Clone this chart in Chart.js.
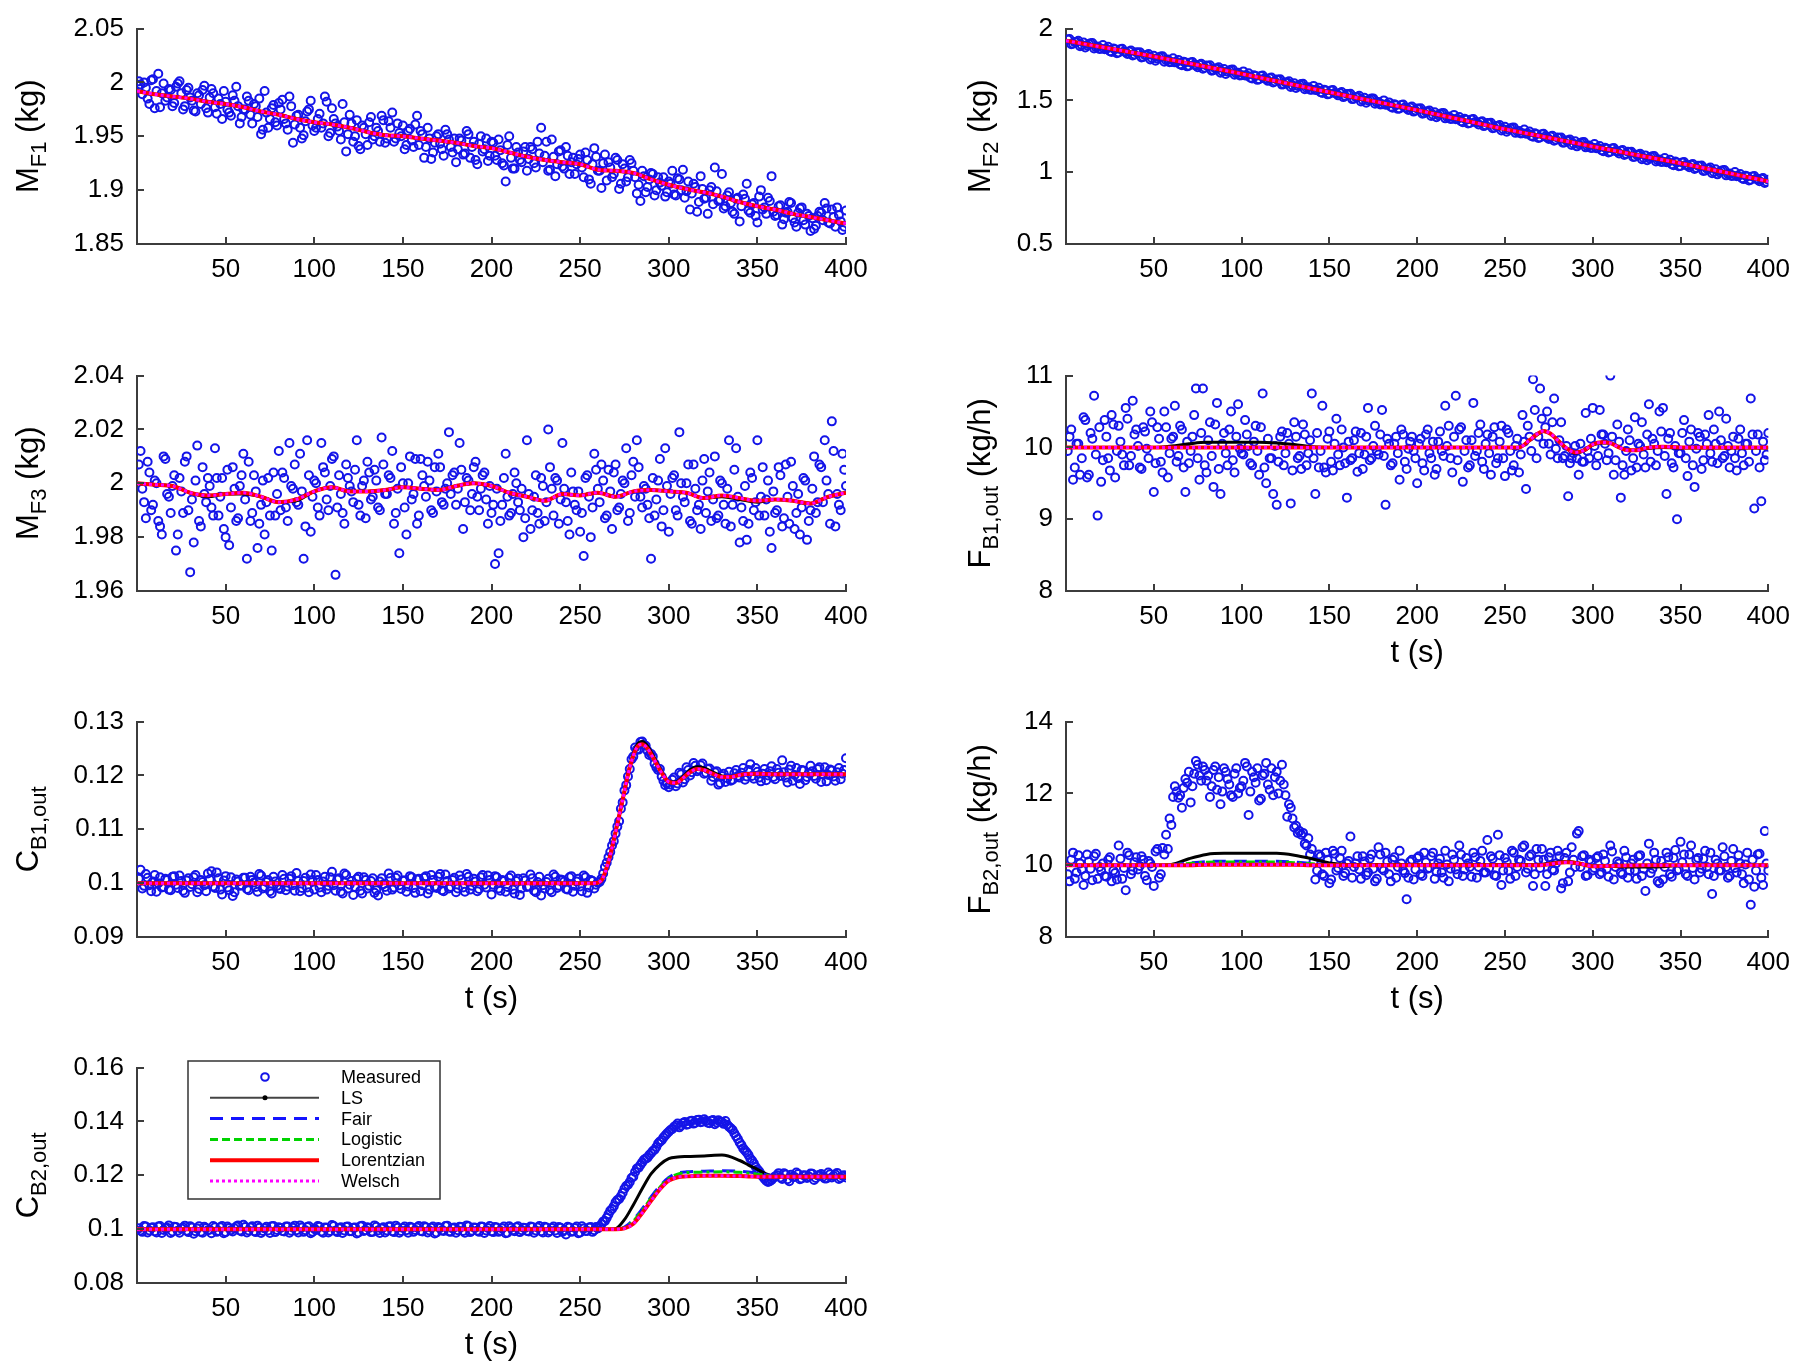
<!DOCTYPE html>
<html>
<head>
<meta charset="utf-8">
<script src="https://cdn.jsdelivr.net/npm/chart.js@4.4.1/dist/chart.umd.min.js"></script>
<style>
  html, body { margin: 0; padding: 0; background: #fff; }
  #fig { position: relative; width: 1800px; height: 1370px; }
  #fig canvas { position: absolute; }
</style>
</head>
<body>
<div id="fig"></div>
<script>
// measurement sample times: even seconds (2..400) and odd seconds (1..399)
const evenT = Array.from({ length: 200 }, (_, i) => 2 * i + 2);
const oddT = Array.from({ length: 200 }, (_, i) => 2 * i + 1);
// time grids for the fitted curves
const grid10 = Array.from({ length: 41 }, (_, i) => i * 10);
const grid25 = Array.from({ length: 17 }, (_, i) => i * 25);

// ---- M_F1 ----
const mf1Meas = [
  1.998, 2.000, 1.985, 2.002, 1.976, 2.008, 1.990, 1.983, 1.994, 1.978,
  1.996, 2.001, 1.975, 1.993, 1.986, 1.974, 1.990, 1.980, 1.997, 1.972,
  1.994, 1.977, 1.985, 1.966, 1.982, 1.972, 1.988, 1.996, 1.962, 1.975,
  1.987, 1.970, 1.980, 1.968, 1.952, 1.992, 1.958, 1.976, 1.963, 1.981,
  1.984, 1.962, 1.987, 1.944, 1.969, 1.958, 1.951, 1.973, 1.983, 1.955,
  1.966, 1.958, 1.987, 1.950, 1.976, 1.962, 1.955, 1.980, 1.936, 1.970,
  1.945, 1.965, 1.938, 1.958, 1.942, 1.968, 1.950, 1.955, 1.969, 1.944,
  1.964, 1.972, 1.948, 1.953, 1.960, 1.942, 1.957, 1.940, 1.969, 1.955,
  1.930, 1.958, 1.929, 1.944, 1.952, 1.938, 1.956, 1.947, 1.935, 1.926,
  1.948, 1.933, 1.955, 1.930, 1.945, 1.924, 1.950, 1.938, 1.927, 1.945,
  1.932, 1.947, 1.925, 1.908, 1.950, 1.920, 1.940, 1.928, 1.936, 1.918,
  1.940, 1.925, 1.945, 1.958, 1.932, 1.918, 1.947, 1.913, 1.936, 1.922,
  1.940, 1.915, 1.930, 1.924, 1.933, 1.912, 1.928, 1.906, 1.939, 1.918,
  1.902, 1.933, 1.926, 1.912, 1.930, 1.901, 1.924, 1.908, 1.928, 1.918,
  1.897, 1.890, 1.913, 1.903, 1.916, 1.895, 1.912, 1.904, 1.894, 1.908,
  1.918, 1.895, 1.910, 1.919, 1.899, 1.882, 1.906, 1.880, 1.913, 1.892,
  1.878, 1.903, 1.921, 1.890, 1.915, 1.885, 1.898, 1.880, 1.892, 1.871,
  1.896, 1.906, 1.879, 1.888, 1.870, 1.900, 1.884, 1.893, 1.913, 1.876,
  1.885, 1.868, 1.879, 1.889, 1.874, 1.866, 1.883, 1.872, 1.878, 1.862,
  1.864, 1.876, 1.879, 1.888, 1.870, 1.882, 1.866, 1.877, 1.863, 1.881
];
const mf1MeasOdd = [
  2.001, 1.989, 1.995, 1.980, 2.003, 1.992, 1.977, 1.999, 1.986, 1.993,
  1.981, 1.999, 1.990, 1.978, 1.995, 1.983, 1.973, 1.988, 1.993, 1.976,
  1.986, 1.990, 1.971, 1.980, 1.992, 1.975, 1.969, 1.983, 1.978, 1.968,
  1.975, 1.983, 1.962, 1.978, 1.985, 1.956, 1.972, 1.966, 1.979, 1.960,
  1.975, 1.966, 1.956, 1.978, 1.961, 1.970, 1.948, 1.964, 1.975, 1.960,
  1.958, 1.971, 1.962, 1.982, 1.953, 1.966, 1.959, 1.947, 1.963, 1.952,
  1.962, 1.950, 1.941, 1.960, 1.952, 1.963, 1.947, 1.958, 1.945, 1.965,
  1.948, 1.958, 1.945, 1.962, 1.950, 1.938, 1.955, 1.946, 1.961, 1.942,
  1.952, 1.940, 1.948, 1.935, 1.950, 1.943, 1.932, 1.952, 1.940, 1.948,
  1.938, 1.946, 1.934, 1.952, 1.940, 1.928, 1.943, 1.936, 1.948, 1.932,
  1.944, 1.928, 1.937, 1.923, 1.942, 1.930, 1.920, 1.935, 1.926, 1.940,
  1.929, 1.938, 1.921, 1.934, 1.926, 1.945, 1.919, 1.931, 1.924, 1.937,
  1.920, 1.932, 1.926, 1.915, 1.929, 1.921, 1.935, 1.910, 1.924, 1.931,
  1.918, 1.925, 1.909, 1.921, 1.915, 1.928, 1.906, 1.920, 1.912, 1.925,
  1.912, 1.905, 1.918, 1.898, 1.910, 1.915, 1.900, 1.907, 1.912, 1.898,
  1.906, 1.896, 1.911, 1.900, 1.893, 1.908, 1.897, 1.903, 1.889, 1.901,
  1.893, 1.900, 1.887, 1.899, 1.891, 1.883, 1.895, 1.888, 1.878, 1.893,
  1.885, 1.892, 1.881, 1.887, 1.876, 1.894, 1.882, 1.878, 1.890, 1.880,
  1.877, 1.886, 1.873, 1.880, 1.888, 1.870, 1.879, 1.884, 1.868, 1.876,
  1.874, 1.867, 1.880, 1.872, 1.883, 1.869, 1.875, 1.884, 1.871, 1.866
];
const mf1Fit = [
  1.992, 1.989, 1.987, 1.985, 1.982, 1.980, 1.977, 1.973, 1.970, 1.966, 1.963,
  1.961, 1.958, 1.954, 1.951, 1.950, 1.948, 1.946, 1.944, 1.941, 1.939,
  1.935, 1.931, 1.928, 1.926, 1.924, 1.919, 1.918, 1.916, 1.910, 1.905,
  1.901, 1.898, 1.894, 1.889, 1.885, 1.882, 1.878, 1.875, 1.872, 1.869
];

// ---- M_F2 ----
const mf2Meas = [
  1.928, 1.894, 1.907, 1.877, 1.903, 1.883, 1.898, 1.862, 1.876, 1.860,
  1.857, 1.874, 1.837, 1.856, 1.833, 1.860, 1.835, 1.841, 1.813, 1.835,
  1.836, 1.802, 1.815, 1.785, 1.811, 1.791, 1.806, 1.770, 1.784, 1.768,
  1.765, 1.782, 1.745, 1.764, 1.741, 1.768, 1.743, 1.749, 1.721, 1.743,
  1.744, 1.710, 1.723, 1.693, 1.719, 1.699, 1.714, 1.678, 1.692, 1.676,
  1.673, 1.689, 1.652, 1.670, 1.647, 1.674, 1.648, 1.654, 1.625, 1.646,
  1.647, 1.612, 1.625, 1.594, 1.620, 1.600, 1.614, 1.578, 1.591, 1.575,
  1.572, 1.588, 1.551, 1.569, 1.546, 1.572, 1.546, 1.552, 1.523, 1.545,
  1.546, 1.511, 1.524, 1.493, 1.519, 1.499, 1.513, 1.477, 1.489, 1.473,
  1.470, 1.486, 1.449, 1.467, 1.444, 1.471, 1.445, 1.451, 1.422, 1.444,
  1.445, 1.410, 1.423, 1.392, 1.418, 1.397, 1.411, 1.375, 1.388, 1.372,
  1.369, 1.385, 1.348, 1.366, 1.343, 1.370, 1.344, 1.350, 1.321, 1.343,
  1.344, 1.309, 1.321, 1.290, 1.316, 1.296, 1.310, 1.274, 1.287, 1.271,
  1.268, 1.284, 1.247, 1.265, 1.242, 1.268, 1.242, 1.248, 1.219, 1.241,
  1.242, 1.207, 1.220, 1.189, 1.215, 1.195, 1.209, 1.173, 1.186, 1.170,
  1.167, 1.183, 1.146, 1.164, 1.142, 1.169, 1.143, 1.149, 1.120, 1.142,
  1.143, 1.108, 1.122, 1.091, 1.117, 1.097, 1.111, 1.075, 1.088, 1.073,
  1.070, 1.086, 1.049, 1.067, 1.044, 1.071, 1.046, 1.052, 1.023, 1.045,
  1.046, 1.011, 1.024, 0.993, 1.020, 1.000, 1.014, 0.978, 0.991, 0.975,
  0.972, 0.988, 0.952, 0.970, 0.947, 0.974, 0.948, 0.954, 0.925, 0.948
];
const mf2MeasOdd = [
  1.924, 1.891, 1.906, 1.915, 1.885, 1.868, 1.892, 1.899, 1.871, 1.858,
  1.886, 1.859, 1.843, 1.862, 1.829, 1.856, 1.840, 1.823, 1.847, 1.819,
  1.832, 1.799, 1.814, 1.823, 1.793, 1.776, 1.800, 1.807, 1.779, 1.766,
  1.794, 1.767, 1.751, 1.770, 1.737, 1.764, 1.748, 1.731, 1.755, 1.727,
  1.740, 1.707, 1.722, 1.731, 1.701, 1.684, 1.708, 1.715, 1.687, 1.674,
  1.702, 1.674, 1.658, 1.676, 1.643, 1.670, 1.653, 1.636, 1.659, 1.631,
  1.644, 1.610, 1.625, 1.633, 1.603, 1.586, 1.609, 1.616, 1.587, 1.574,
  1.601, 1.573, 1.557, 1.575, 1.542, 1.569, 1.552, 1.535, 1.558, 1.530,
  1.543, 1.509, 1.524, 1.532, 1.502, 1.484, 1.507, 1.514, 1.485, 1.472,
  1.500, 1.472, 1.456, 1.474, 1.441, 1.468, 1.451, 1.434, 1.457, 1.429,
  1.441, 1.407, 1.422, 1.430, 1.400, 1.383, 1.406, 1.413, 1.384, 1.371,
  1.399, 1.371, 1.355, 1.373, 1.340, 1.367, 1.350, 1.333, 1.355, 1.327,
  1.340, 1.306, 1.321, 1.329, 1.299, 1.282, 1.305, 1.312, 1.283, 1.269,
  1.297, 1.269, 1.253, 1.271, 1.238, 1.265, 1.248, 1.231, 1.254, 1.226,
  1.239, 1.205, 1.220, 1.228, 1.198, 1.180, 1.203, 1.210, 1.181, 1.168,
  1.196, 1.168, 1.153, 1.171, 1.138, 1.165, 1.148, 1.131, 1.155, 1.127,
  1.140, 1.106, 1.121, 1.129, 1.099, 1.083, 1.106, 1.113, 1.084, 1.071,
  1.099, 1.071, 1.056, 1.074, 1.041, 1.068, 1.051, 1.034, 1.057, 1.029,
  1.043, 1.009, 1.024, 1.032, 1.002, 0.985, 1.008, 1.015, 0.987, 0.974,
  1.002, 0.974, 0.958, 0.976, 0.943, 0.970, 0.954, 0.937, 0.960, 0.932
];
const mf2Fit = [1.915, 1.862, 1.806, 1.746, 1.685, 1.621, 1.557, 1.495, 1.432,
  1.366, 1.300, 1.240, 1.179, 1.120, 1.062, 1.000, 0.936];

// ---- M_F3 ----
const mf3Meas = [
  2.012, 1.993, 2.008, 1.990, 2.001, 1.986, 1.981, 2.009, 1.995, 1.999,
  1.975, 2.002, 1.989, 2.010, 1.967, 1.978, 2.014, 1.984, 1.996, 2.002,
  1.991, 2.013, 1.988, 2.002, 1.980, 1.977, 2.006, 1.986, 1.999, 2.011,
  1.972, 1.986, 2.003, 1.976, 1.992, 1.981, 2.002, 1.975, 1.988, 2.012,
  2.004, 1.991, 2.015, 1.998, 1.993, 2.011, 1.972, 2.016, 1.982, 2.001,
  1.991, 2.015, 2.004, 1.990, 2.009, 1.966, 2.003, 1.989, 2.007, 1.999,
  1.993, 2.016, 1.988, 2.001, 2.008, 1.994, 2.005, 1.991, 2.017, 1.996,
  2.003, 2.012, 1.989, 1.974, 2.000, 1.981, 2.010, 1.996, 1.985, 2.009,
  1.999, 2.008, 1.990, 2.006, 2.011, 1.993, 1.998, 2.019, 2.003, 1.992,
  2.015, 1.983, 2.002, 1.990, 2.006, 1.995, 1.998, 2.004, 1.985, 1.989,
  1.970, 1.974, 1.992, 2.011, 1.988, 1.996, 2.000, 1.990, 1.980, 2.016,
  1.983, 1.995, 1.989, 2.002, 1.986, 2.020, 1.998, 2.002, 1.985, 2.015,
  1.993, 1.981, 1.997, 1.990, 1.982, 1.973, 2.003, 1.980, 2.011, 1.998,
  2.007, 1.987, 2.005, 1.983, 2.007, 1.991, 2.001, 2.013, 1.989, 2.008,
  2.016, 1.995, 1.999, 1.992, 1.972, 1.988, 2.001, 1.984, 2.013, 1.982,
  2.002, 1.990, 2.019, 1.995, 2.000, 1.986, 2.007, 1.990, 1.983, 2.009,
  1.997, 1.986, 2.010, 1.988, 2.000, 1.985, 2.016, 1.992, 2.013, 1.978,
  1.986, 1.979, 2.004, 1.990, 2.016, 1.995, 1.988, 2.001, 1.976, 1.989,
  2.006, 1.984, 2.007, 1.985, 1.999, 1.989, 1.981, 2.002, 1.979, 1.990,
  2.010, 1.993, 2.006, 2.016, 1.996, 2.023, 1.984, 1.992, 2.011, 1.999
];
const mf3MeasOdd = [
  2.007, 1.998, 1.987, 2.004, 1.992, 2.000, 1.984, 2.010, 1.996, 1.989,
  2.003, 1.981, 1.997, 2.008, 1.990, 1.994, 2.001, 1.986, 2.006, 1.993,
  1.999, 1.988, 2.002, 1.995, 1.983, 2.005, 1.991, 1.998, 1.987, 2.003,
  1.994, 2.008, 1.989, 1.997, 1.985, 2.001, 1.993, 1.988, 2.004, 1.996,
  1.990, 2.002, 1.986, 1.999, 2.007, 1.992, 1.997, 1.984, 2.003, 1.995,
  2.000, 1.988, 2.006, 1.994, 1.999, 2.010, 1.991, 1.996, 1.985, 2.002,
  1.997, 2.005, 1.992, 1.999, 1.987, 2.004, 1.995, 2.001, 1.990, 2.007,
  1.996, 2.002, 1.985, 1.998, 2.006, 1.991, 2.000, 1.994, 2.009, 1.988,
  2.003, 1.995, 2.001, 1.989, 1.997, 2.006, 1.992, 2.000, 1.996, 2.004,
  1.998, 2.005, 1.993, 2.001, 1.996, 2.008, 1.990, 2.003, 1.994, 1.999,
  1.992, 1.998, 1.986, 2.002, 1.995, 1.989, 2.004, 1.993, 1.998, 1.987,
  1.996, 1.990, 2.003, 1.985, 1.999, 1.993, 2.006, 1.988, 2.001, 1.994,
  1.998, 1.986, 2.004, 1.992, 1.997, 1.989, 2.002, 1.995, 1.991, 2.005,
  1.993, 2.001, 1.988, 1.997, 2.004, 1.990, 1.996, 2.000, 1.986, 2.003,
  1.995, 2.006, 1.991, 1.998, 1.987, 2.002, 1.994, 2.009, 1.990, 1.999,
  1.996, 2.003, 1.988, 2.000, 1.993, 2.007, 1.985, 1.998, 1.992, 2.001,
  1.989, 2.004, 1.994, 1.987, 2.001, 1.992, 1.998, 1.984, 2.005, 1.995,
  1.991, 1.999, 1.985, 2.002, 1.993, 1.988, 2.006, 1.994, 1.982, 1.997,
  1.990, 2.003, 1.987, 1.995, 2.008, 1.983, 1.996, 1.991, 2.001, 1.986,
  1.998, 1.989, 2.007, 1.993, 2.001, 1.985, 2.012, 1.996, 1.990, 2.005
];
const mf3Fit = [
  2.000, 1.9995, 1.999, 1.9965, 1.9955, 1.996, 1.9965, 1.995, 1.993, 1.994, 1.997,
  1.9985, 1.997, 1.997, 1.9975, 1.9985, 1.998, 1.9975, 1.999, 2.000, 1.999,
  1.9965, 1.995, 1.9935, 1.996, 1.9955, 1.9965, 1.995, 1.997, 1.9975, 1.997,
  1.9965, 1.9945, 1.9955, 1.9945, 1.9935, 1.994, 1.9935, 1.9925, 1.995, 1.9965
];
const mf3LS = [
  2.000, 1.9995, 1.999, 1.9965, 1.995, 1.996, 1.996, 1.995, 1.993, 1.9935, 1.997,
  1.9985, 1.997, 1.997, 1.9975, 1.9985, 1.998, 1.9975, 1.999, 2.000, 1.999,
  1.9965, 1.995, 1.9935, 1.996, 1.9955, 1.9965, 1.995, 1.997, 1.9975, 1.997,
  1.9965, 1.9945, 1.995, 1.994, 1.993, 1.994, 1.9935, 1.9925, 1.995, 1.9965
];

// ---- F_B1,out ----
const fb1Meas = [
  10.15, 9.55, 10.05, 9.62, 10.42, 9.58, 10.20, 10.72, 9.05, 9.52,
  10.38, 9.85, 10.45, 9.58, 10.30, 9.90, 10.55, 9.75, 10.65, 10.25,
  9.72, 10.28, 9.98, 10.50, 9.38, 10.28, 9.80, 10.50, 9.58, 10.12,
  10.58, 9.88, 10.25, 9.38, 9.78, 10.15, 10.82, 9.55, 10.82, 9.65,
  10.35, 9.45, 10.62, 9.35, 10.20, 9.75, 10.50, 9.65, 10.60, 9.92,
  10.38, 10.02, 9.75, 10.30, 9.62, 10.75, 9.50, 9.85, 9.35, 9.20,
  10.15, 9.75, 10.20, 9.22, 10.35, 9.85, 9.70, 10.18, 9.92, 10.75,
  9.35, 9.72, 10.58, 9.65, 10.22, 9.68, 10.40, 9.75, 10.00, 9.30,
  9.82, 10.10, 9.66, 10.20, 9.90, 10.55, 9.85, 10.30, 9.90, 10.52,
  9.20, 10.05, 9.78, 10.15, 9.55, 10.18, 9.70, 10.08, 9.95, 9.50,
  10.12, 9.68, 10.25, 9.85, 9.62, 10.08, 9.95, 10.58, 10.30, 9.65,
  10.72, 10.25, 9.52, 10.10, 9.75, 10.62, 9.95, 10.32, 9.70, 10.18,
  9.62, 10.28, 9.85, 10.30, 9.60, 10.20, 9.68, 10.02, 9.65, 10.45,
  9.42, 10.15, 10.95, 9.85, 10.82, 10.05, 10.50, 9.90, 10.68, 9.85,
  10.35, 9.88, 9.32, 9.85, 10.02, 9.62, 9.80, 10.48, 9.85, 10.55,
  9.75, 10.52, 10.18, 9.82, 11.00, 9.62, 10.32, 9.30, 9.62, 10.25,
  9.68, 10.42, 10.05, 10.35, 9.72, 10.60, 10.12, 9.75, 10.50, 10.55,
  9.35, 10.20, 9.72, 9.00, 9.92, 10.38, 9.60, 10.25, 9.45, 10.20,
  9.70, 10.18, 10.45, 9.80, 10.05, 10.50, 9.85, 10.40, 9.72, 10.15,
  9.68, 10.25, 9.75, 10.05, 10.68, 9.15, 10.18, 9.25, 9.82, 10.20
];
const fb1MeasOdd = [
  9.95, 10.25, 9.72, 10.05, 9.85, 10.38, 9.62, 10.12, 9.90, 10.28,
  9.82, 10.15, 9.68, 10.32, 9.95, 10.08, 9.75, 10.40, 9.88, 10.18,
  10.02, 9.70, 10.22, 9.85, 10.35, 9.78, 10.12, 9.65, 10.28, 9.92,
  10.15, 9.80, 10.30, 9.72, 10.08, 9.95, 10.45, 9.85, 10.20, 9.75,
  10.10, 9.88, 10.32, 9.70, 10.05, 9.92, 10.25, 9.82, 10.15, 9.98,
  9.90, 10.18, 9.78, 10.08, 9.95, 10.28, 9.72, 10.12, 9.85, 10.02,
  9.80, 10.22, 9.92, 10.05, 9.68, 10.15, 9.88, 10.32, 9.75, 10.10,
  9.85, 10.20, 9.95, 9.72, 10.12, 9.80, 10.05, 9.90, 10.25, 9.78,
  10.08, 9.85, 10.22, 9.92, 9.70, 10.15, 9.82, 10.02, 9.95, 10.18,
  9.88, 10.12, 9.75, 10.05, 9.92, 10.25, 9.80, 9.98, 10.15, 9.85,
  10.05, 9.78, 10.18, 9.92, 10.08, 9.70, 10.22, 9.88, 10.02, 9.85,
  10.15, 9.82, 10.28, 9.95, 9.72, 10.10, 9.88, 10.20, 9.80, 10.05,
  9.92, 10.15, 9.78, 10.08, 9.85, 10.25, 9.95, 9.75, 10.12, 9.90,
  10.08, 10.30, 9.95, 10.52, 10.15, 10.40, 10.28, 10.05, 10.35, 9.98,
  10.10, 9.85, 10.02, 9.78, 9.92, 9.85, 10.05, 9.80, 9.95, 10.12,
  10.02, 9.88, 10.18, 10.05, 9.92, 10.15, 9.82, 10.08, 9.75, 9.95,
  10.10, 9.85, 9.72, 10.02, 9.90, 10.18, 9.80, 10.05, 9.95, 10.22,
  9.88, 10.12, 9.78, 10.02, 9.92, 10.20, 9.85, 10.08, 9.75, 9.98,
  10.15, 9.82, 10.05, 9.92, 10.25, 9.78, 10.10, 9.88, 10.02, 9.95,
  9.85, 10.12, 9.92, 10.05, 9.80, 10.18, 9.95, 9.72, 10.08, 9.90
];
const fb1FitT = [0, 50, 60, 70, 80, 90, 100, 110, 120, 130, 140, 150, 200, 250,
  258, 264, 268, 272, 276, 280, 285, 290, 295, 300, 305, 310, 315, 320, 325, 330, 340, 350, 400];
const fb1Fit = [10, 10, 10, 10, 10, 10, 10, 10, 10, 10, 10, 10, 10, 10,
  10.0, 10.1, 10.18, 10.23, 10.19, 10.1, 9.99, 9.93, 9.96, 10.04, 10.07, 10.06, 10.0, 9.96, 9.96, 9.99, 10.01, 10.0, 10.0];
const fb1LS = [10, 10, 10.02, 10.05, 10.07, 10.07, 10.07, 10.07, 10.06, 10.04, 10.01, 10, 10, 10,
  10.0, 10.1, 10.17, 10.22, 10.19, 10.1, 9.99, 9.92, 9.95, 10.03, 10.06, 10.06, 10.0, 9.96, 9.96, 9.98, 10.0, 9.99, 9.99];

// ---- C_B1,out ----
const cb1Meas = [
  0.1025, 0.0995, 0.1010, 0.0985, 0.1015, 0.1000, 0.0992, 0.1008, 0.0988, 0.1012,
  0.0997, 0.1014, 0.0986, 0.1005, 0.0993, 0.1011, 0.0983, 0.1006, 0.0996, 0.1018,
  0.1022, 0.0991, 0.1009, 0.0979, 0.1013, 0.0987, 0.0976, 0.1007, 0.0995, 0.1010,
  0.0989, 0.1012, 0.1001, 0.0984, 0.1014, 0.0993, 0.1006, 0.0981, 0.1003, 0.0990,
  0.1015, 0.0987, 0.1008, 0.0996, 0.1019, 0.0985, 0.1004, 0.0992, 0.1016, 0.0988,
  0.1006, 0.0983, 0.1012, 0.0995, 0.1021, 0.0986, 0.1009, 0.0981, 0.1015, 0.0997,
  0.0978, 0.1008, 0.0986, 0.1011, 0.0990, 0.1004, 0.0982, 0.0977, 0.1009, 0.0993,
  0.1018, 0.0988, 0.1010, 0.0996, 0.1005, 0.0984, 0.1013, 0.0991, 0.1007, 0.0985,
  0.1010, 0.0981, 0.1015, 0.0994, 0.1012, 0.0987, 0.1016, 0.0990, 0.1006, 0.0983,
  0.1014, 0.0992, 0.1017, 0.0988, 0.1008, 0.0985, 0.1011, 0.0997, 0.1014, 0.0979,
  0.1013, 0.0990, 0.1006, 0.0984, 0.1010, 0.0988, 0.1004, 0.0978, 0.1009, 0.0993,
  0.1016, 0.0986, 0.1002, 0.0977, 0.0990, 0.1008, 0.0983, 0.1012, 0.0995, 0.1006,
  0.0989, 0.1011, 0.0984, 0.1003, 0.0994, 0.1014, 0.0982, 0.1006, 0.0990, 0.1001,
  0.1008, 0.1030, 0.1048, 0.1070, 0.1092, 0.1115, 0.1150, 0.1182, 0.1212, 0.1235,
  0.1248, 0.1262, 0.1257, 0.1246, 0.1240, 0.1222, 0.1210, 0.1198, 0.1182, 0.1178,
  0.1192, 0.1180, 0.1205, 0.1187, 0.1215, 0.1200, 0.1223, 0.1208, 0.1219, 0.1203,
  0.1212, 0.1190, 0.1206, 0.1183, 0.1199, 0.1188, 0.1207, 0.1192, 0.1210, 0.1196,
  0.1214, 0.1198, 0.1221, 0.1194, 0.1207, 0.1189, 0.1212, 0.1200, 0.1217, 0.1193,
  0.1205, 0.1228, 0.1196, 0.1211, 0.1190, 0.1214, 0.1184, 0.1209, 0.1197, 0.1218,
  0.1199, 0.1212, 0.1188, 0.1215, 0.1201, 0.1209, 0.1190, 0.1214, 0.1203, 0.1232
];
const cb1MeasOdd = [
  0.1008, 0.0990, 0.1017, 0.0996, 0.1003, 0.0984, 0.1011, 0.0993, 0.1006, 0.0987,
  0.1013, 0.0991, 0.1004, 0.0982, 0.1009, 0.0998, 0.1015, 0.0989, 0.1002, 0.0985,
  0.1007, 0.0994, 0.1020, 0.0988, 0.1005, 0.0992, 0.1011, 0.0983, 0.1003, 0.0996,
  0.1010, 0.0987, 0.1006, 0.0993, 0.1017, 0.0990, 0.1002, 0.0985, 0.1012, 0.0995,
  0.0989, 0.1008, 0.0994, 0.1013, 0.0986, 0.1004, 0.0991, 0.1010, 0.0983, 0.1006,
  0.1015, 0.0992, 0.1003, 0.0988, 0.1011, 0.0996, 0.1007, 0.0984, 0.1018, 0.0990,
  0.1004, 0.0993, 0.1012, 0.0981, 0.1006, 0.0995, 0.1009, 0.0987, 0.1003, 0.0998,
  0.0986, 0.1010, 0.0992, 0.1014, 0.0989, 0.1005, 0.0994, 0.1011, 0.0982, 0.1008,
  0.0996, 0.1013, 0.0988, 0.1006, 0.0991, 0.1017, 0.0985, 0.1004, 0.0993, 0.1010,
  0.0990, 0.1007, 0.0984, 0.1012, 0.0995, 0.1003, 0.0989, 0.1015, 0.0992, 0.1006,
  0.0997, 0.1011, 0.0986, 0.1004, 0.0993, 0.1014, 0.0981, 0.1008, 0.0990, 0.1005,
  0.0994, 0.1009, 0.0983, 0.1012, 0.0996, 0.1002, 0.0987, 0.1016, 0.0991, 0.1007,
  0.1003, 0.0988, 0.1013, 0.0995, 0.1008, 0.0985, 0.1011, 0.0992, 0.1004, 0.0997,
  0.1002, 0.1018, 0.1038, 0.1058, 0.1078, 0.1105, 0.1138, 0.1172, 0.1198, 0.1230,
  0.1252, 0.1248, 0.1263, 0.1255, 0.1238, 0.1235, 0.1215, 0.1212, 0.1190, 0.1185,
  0.1183, 0.1196, 0.1185, 0.1202, 0.1193, 0.1210, 0.1206, 0.1218, 0.1211, 0.1222,
  0.1205, 0.1213, 0.1197, 0.1208, 0.1186, 0.1203, 0.1195, 0.1190, 0.1204, 0.1199,
  0.1205, 0.1192, 0.1210, 0.1199, 0.1214, 0.1196, 0.1203, 0.1191, 0.1208, 0.1197,
  0.1212, 0.1199, 0.1206, 0.1187, 0.1218, 0.1201, 0.1195, 0.1210, 0.1191, 0.1204,
  0.1208, 0.1194, 0.1215, 0.1202, 0.1189, 0.1211, 0.1198, 0.1206, 0.1193, 0.1210
];
const cb1FitT = [0, 100, 200, 258, 262, 266, 270, 274, 278, 282, 285, 288, 292, 296, 300,
  304, 308, 312, 316, 320, 325, 330, 335, 340, 350, 360, 400];
const cb1Fit = [0.1, 0.1, 0.1, 0.1, 0.1005, 0.104, 0.1095, 0.1155, 0.1215, 0.1252, 0.1258, 0.1250,
  0.1228, 0.1205, 0.1188, 0.1186, 0.1195, 0.1206, 0.1212, 0.1210, 0.1203, 0.1197, 0.1197, 0.1201,
  0.1203, 0.1202, 0.1202];
const cb1LS = [0.1, 0.1, 0.1, 0.1, 0.1005, 0.104, 0.1095, 0.1155, 0.1217, 0.1256, 0.1263, 0.1255,
  0.1232, 0.1207, 0.1189, 0.1188, 0.1198, 0.1210, 0.1216, 0.1214, 0.1206, 0.1199, 0.1198, 0.1201,
  0.1203, 0.1202, 0.1202];

// ---- F_B2,out ----
const fb2Meas = [
  9.55, 10.35, 9.80, 10.05, 9.45, 10.30, 9.90, 10.25, 9.62, 9.85,
  9.70, 10.15, 9.55, 9.78, 10.55, 9.62, 9.30, 10.28, 9.85, 10.22,
  9.98, 10.15, 9.58, 10.05, 9.42, 10.45, 9.75, 10.30, 10.45, 11.12,
  12.20, 11.88, 11.60, 12.40, 12.60, 12.20, 12.90, 12.50, 12.75, 12.35,
  11.90, 12.65, 12.10, 11.70, 12.70, 12.40, 11.95, 12.55, 12.00, 12.20,
  12.85, 11.40, 12.60, 12.30, 11.80, 12.50, 12.85, 12.10, 11.95, 12.60,
  12.35, 12.25, 11.35, 11.60, 11.05, 10.90, 10.85, 10.60, 10.75, 10.45,
  9.60, 10.30, 9.75, 10.35, 9.50, 10.40, 9.85, 10.20, 9.70, 10.05,
  10.80, 9.95, 10.25, 9.62, 10.10, 9.80, 10.30, 9.55, 10.50, 9.90,
  10.35, 9.75, 10.15, 9.65, 10.40, 9.85, 9.05, 10.10, 9.60, 10.20,
  9.75, 10.35, 9.90, 10.25, 9.62, 10.05, 9.80, 10.40, 9.55, 10.30,
  9.88, 10.55, 9.70, 10.20, 9.95, 10.35, 9.65, 10.12, 9.80, 10.70,
  10.25, 9.72, 10.85, 9.45, 10.20, 9.85, 10.40, 9.70, 10.15, 10.50,
  9.80, 10.25, 9.42, 10.45, 9.92, 10.15, 9.75, 10.35, 9.85, 10.40,
  9.35, 10.20, 9.55, 10.50, 9.95, 10.95, 10.25, 9.70, 10.15, 9.85,
  10.20, 9.75, 10.30, 9.90, 10.55, 9.60, 10.10, 9.80, 10.40, 9.65,
  10.05, 9.85, 10.25, 9.70, 9.28, 10.60, 9.90, 10.15, 9.50, 9.60,
  10.35, 9.75, 10.20, 9.85, 10.65, 10.30, 9.70, 10.55, 9.60, 10.20,
  9.90, 10.40, 9.75, 9.20, 10.15, 9.85, 10.50, 9.95, 9.70, 10.45,
  9.80, 10.05, 9.50, 10.35, 8.90, 9.40, 10.30, 9.65, 10.95, 9.85
];
const fb2MeasOdd = [
  9.75, 10.15, 9.62, 10.28, 9.88, 9.70, 10.10, 9.58, 10.32, 9.95,
  10.05, 9.68, 10.22, 9.85, 9.60, 10.18, 9.92, 10.35, 9.75, 10.08,
  9.88, 10.25, 9.70, 10.12, 9.95, 10.38, 9.65, 10.48, 10.85, 11.30,
  11.90, 12.05, 11.95, 12.15, 12.30, 11.75, 12.55, 12.80, 12.35, 12.65,
  12.50, 12.20, 12.75, 12.45, 12.05, 12.60, 12.25, 11.90, 12.70, 12.15,
  12.35, 12.75, 12.05, 12.45, 12.70, 11.85, 12.55, 12.25, 12.70, 12.45,
  12.00, 12.80, 11.95, 11.70, 11.30, 11.10, 10.95, 10.90, 10.55, 10.30,
  10.10, 9.85, 10.25, 9.70, 10.15, 9.60, 10.32, 9.92, 10.40, 9.78,
  10.12, 9.65, 10.05, 9.88, 10.25, 9.72, 10.18, 9.90, 9.62, 10.30,
  9.85, 10.10, 9.55, 10.22, 9.95, 10.05, 9.78, 9.65, 10.15, 9.88,
  10.25, 9.70, 10.08, 9.92, 10.35, 9.82, 10.18, 9.65, 10.02, 9.90,
  10.15, 9.75, 10.30, 9.88, 10.05, 9.68, 10.22, 9.95, 10.40, 9.80,
  9.92, 10.18, 9.70, 10.28, 9.85, 10.08, 9.62, 10.35, 9.95, 10.12,
  10.55, 9.90, 10.30, 9.75, 10.15, 10.45, 9.42, 10.22, 9.88, 10.05,
  10.25, 9.50, 10.35, 9.80, 10.15, 10.88, 9.95, 10.28, 9.72, 10.10,
  9.92, 10.25, 9.80, 10.12, 9.68, 10.38, 9.95, 10.05, 9.75, 10.22,
  9.85, 10.15, 9.62, 10.28, 9.90, 10.05, 9.78, 10.35, 9.55, 10.12,
  9.95, 10.22, 9.68, 10.42, 9.88, 10.08, 9.75, 10.30, 9.92, 10.15,
  9.80, 10.18, 9.95, 10.35, 9.70, 10.05, 9.85, 10.25, 9.65, 10.12,
  9.92, 10.28, 9.75, 10.02, 9.60, 10.15, 9.85, 10.32, 9.45, 10.05
];
const fb2FitT = [0, 50, 60, 70, 80, 90, 100, 110, 120, 130, 140, 150, 160,
  270, 278, 285, 292, 300, 310, 320, 330, 340, 350, 400];
const fb2LS = [10, 10, 10.02, 10.18, 10.3, 10.33, 10.33, 10.33, 10.33, 10.28, 10.18, 10.06, 10.02,
  10.02, 10.07, 10.1, 10.06, 9.97, 9.97, 9.95, 9.95, 9.96, 10, 10];
const fb2Fair = [10, 10, 10.01, 10.06, 10.1, 10.11, 10.11, 10.11, 10.11, 10.09, 10.05, 10.01, 10,
  10, 10.05, 10.08, 10.05, 9.98, 9.99, 9.99, 10, 10, 10, 10];
const fb2Logistic = [10, 10, 10.01, 10.05, 10.08, 10.09, 10.09, 10.09, 10.09, 10.07, 10.04, 10.01, 10,
  10, 10.05, 10.08, 10.05, 9.98, 9.99, 9.99, 10, 10, 10, 10];
const fb2Lorentzian = [10, 10, 10, 10, 10.01, 10.01, 10.01, 10.01, 10.01, 10.01, 10, 10, 10,
  10, 10.05, 10.08, 10.05, 9.97, 9.98, 9.99, 10, 10, 10, 10];

// ---- C_B2,out ----
const cb2Meas = [
  0.0995, 0.1012, 0.0988, 0.1005, 0.0992, 0.1010, 0.0986, 0.1003, 0.1014, 0.0991,
  0.1008, 0.0987, 0.1006, 0.0994, 0.1011, 0.0983, 0.1002, 0.0990, 0.1009, 0.0996,
  0.0985, 0.1007, 0.0993, 0.1012, 0.0989, 0.1004, 0.0991, 0.1010, 0.0995, 0.1016,
  0.0988, 0.1006, 0.0992, 0.1013, 0.0986, 0.1003, 0.0995, 0.1011, 0.0989, 0.1007,
  0.0993, 0.1010, 0.0987, 0.1005, 0.0996, 0.1014, 0.0990, 0.1008, 0.0985, 0.1002,
  0.1012, 0.0991, 0.1006, 0.0988, 0.1015, 0.0994, 0.1003, 0.0986, 0.1009, 0.0992,
  0.1005, 0.0984, 0.1011, 0.0993, 0.1007, 0.0989, 0.1014, 0.0995, 0.1002, 0.0988,
  0.1010, 0.0992, 0.1013, 0.0987, 0.1004, 0.0996, 0.1009, 0.0990, 0.1006, 0.0993,
  0.1011, 0.0988, 0.1005, 0.0984, 0.1008, 0.0995, 0.1012, 0.0991, 0.1003, 0.0987,
  0.1009, 0.0993, 0.1014, 0.0989, 0.1006, 0.0994, 0.1010, 0.0986, 0.1004, 0.0992,
  0.1008, 0.0990, 0.1003, 0.0985, 0.1011, 0.0996, 0.1007, 0.0989, 0.1005, 0.0993,
  0.1010, 0.0987, 0.1006, 0.0992, 0.1009, 0.0988, 0.1004, 0.0995, 0.1008, 0.0990,
  0.0980, 0.1006, 0.0992, 0.1010, 0.0988, 0.1002, 0.0993, 0.1008, 0.0996, 0.1003,
  0.1018, 0.1030, 0.1055, 0.1075, 0.1100, 0.1112, 0.1135, 0.1160, 0.1175, 0.1195,
  0.1225, 0.1238, 0.1258, 0.1265, 0.1282, 0.1295, 0.1318, 0.1330, 0.1348, 0.1362,
  0.1372, 0.1385, 0.1378, 0.1394, 0.1388, 0.1401, 0.1392, 0.1405, 0.1397, 0.1408,
  0.1395, 0.1403, 0.1390, 0.1404, 0.1398, 0.1402, 0.1380, 0.1368, 0.1345, 0.1322,
  0.1300, 0.1285, 0.1262, 0.1245, 0.1222, 0.1205, 0.1187, 0.1175, 0.1183, 0.1196,
  0.1208, 0.1186, 0.1203, 0.1178, 0.1195, 0.1210, 0.1185, 0.1200, 0.1190, 0.1207,
  0.1183, 0.1199, 0.1205, 0.1188, 0.1210, 0.1192, 0.1203, 0.1186, 0.1198, 0.1192
];
const cb2MeasOdd = [
  0.1003, 0.0990, 0.1010, 0.0995, 0.1007, 0.0988, 0.1012, 0.0997, 0.1005, 0.0986,
  0.1009, 0.0994, 0.1002, 0.1013, 0.0989, 0.1006, 0.0992, 0.1011, 0.0987, 0.1004,
  0.0998, 0.1012, 0.0990, 0.1007, 0.0985, 0.1010, 0.0996, 0.1003, 0.1014, 0.0991,
  0.1008, 0.0995, 0.1011, 0.0989, 0.1005, 0.0993, 0.1009, 0.0986, 0.1012, 0.0997,
  0.1004, 0.0991, 0.1010, 0.0994, 0.1013, 0.0988, 0.1006, 0.0996, 0.1011, 0.0990,
  0.0997, 0.1009, 0.0987, 0.1005, 0.0993, 0.1012, 0.0989, 0.1007, 0.0995, 0.1010,
  0.0992, 0.1006, 0.0988, 0.1013, 0.0996, 0.1004, 0.0990, 0.1009, 0.0986, 0.1007,
  0.0995, 0.1011, 0.0989, 0.1005, 0.0993, 0.1010, 0.0987, 0.1006, 0.0997, 0.1012,
  0.0991, 0.1007, 0.0995, 0.1010, 0.0988, 0.1004, 0.0993, 0.1013, 0.0990, 0.1006,
  0.0996, 0.1008, 0.0987, 0.1011, 0.0994, 0.1005, 0.0990, 0.1009, 0.0995, 0.1012,
  0.0989, 0.1006, 0.0994, 0.1010, 0.0987, 0.1005, 0.0992, 0.1011, 0.0996, 0.1004,
  0.0991, 0.1008, 0.0995, 0.1012, 0.0988, 0.1006, 0.0993, 0.1010, 0.0986, 0.1005,
  0.0996, 0.1009, 0.0990, 0.1004, 0.0985, 0.1011, 0.0993, 0.1006, 0.0990, 0.1008,
  0.1010, 0.1028, 0.1042, 0.1068, 0.1085, 0.1108, 0.1122, 0.1150, 0.1165, 0.1190,
  0.1212, 0.1228, 0.1248, 0.1262, 0.1275, 0.1290, 0.1305, 0.1325, 0.1340, 0.1355,
  0.1368, 0.1380, 0.1392, 0.1385, 0.1398, 0.1390, 0.1403, 0.1395, 0.1406, 0.1399,
  0.1402, 0.1393, 0.1405, 0.1396, 0.1400, 0.1391, 0.1388, 0.1375, 0.1356, 0.1335,
  0.1312, 0.1292, 0.1275, 0.1255, 0.1232, 0.1215, 0.1196, 0.1180, 0.1178, 0.1190,
  0.1200, 0.1192, 0.1208, 0.1185, 0.1202, 0.1194, 0.1205, 0.1188, 0.1199, 0.1196,
  0.1206, 0.1190, 0.1201, 0.1195, 0.1188, 0.1204, 0.1197, 0.1209, 0.1191, 0.1200
];
const cb2FitT = [0, 260, 265, 270, 275, 280, 285, 290, 295, 300, 305, 310, 320, 330, 340, 345, 350, 355, 360, 370, 400];
const cb2LS = [0.1, 0.1, 0.1, 0.1002, 0.1035, 0.109, 0.115, 0.1205, 0.124, 0.1262, 0.1268, 0.127, 0.1272,
  0.1275, 0.1255, 0.1238, 0.1222, 0.1205, 0.1196, 0.1195, 0.1195];
const cb2Fair = [0.1, 0.1, 0.1, 0.1, 0.1008, 0.1035, 0.1075, 0.112, 0.116, 0.1192, 0.1208, 0.1213, 0.1215,
  0.1217, 0.1215, 0.1212, 0.1208, 0.1202, 0.1197, 0.1195, 0.1195];
const cb2Logistic = [0.1, 0.1, 0.1, 0.1, 0.1006, 0.103, 0.107, 0.1115, 0.1156, 0.1188, 0.1204, 0.121, 0.1212,
  0.1213, 0.1211, 0.1208, 0.1204, 0.12, 0.1196, 0.1195, 0.1195];
const cb2Lorentzian = [0.1, 0.1, 0.1, 0.1, 0.1003, 0.102, 0.106, 0.1105, 0.1148, 0.118, 0.1193, 0.1196, 0.1198,
  0.1198, 0.1197, 0.1196, 0.1195, 0.1195, 0.1195, 0.1195, 0.1195];
const cb2Welsch = cb2Lorentzian;

const methods = ['LS', 'Fair', 'Logistic', 'Lorentzian', 'Welsch'];

// ---------- styling ----------
const FONT = "'Liberation Sans', Arial, Helvetica, sans-serif";
const AXIS = '#3c3c3c';
const BLUE = 'rgb(20, 20, 232)';
const styles = {
  LS:         { color: '#000000', width: 3, dash: [], order: 5 },
  Fair:       { color: '#1414ff', width: 3, dash: [13, 8], order: 4 },
  Logistic:   { color: '#00d200', width: 3, dash: [9, 4, 3, 4], order: 3 },
  Lorentzian: { color: '#ff0000', width: 4, dash: [], order: 2 },
  Welsch:     { color: '#ff00ff', width: 3, dash: [3, 3], order: 1 }
};

const all = arr => Object.fromEntries(methods.map(m => [m, arr]));

const panels = [
  { col: 0, row: 0, min: 1.85, max: 2.05, step: 0.05, meas: mf1Meas, measOdd: mf1MeasOdd, fitT: grid10,
    fits: all(mf1Fit), yTitle: [['M'], ['F1', 1], [' (kg)']] },
  { col: 1, row: 0, min: 0.5, max: 2, step: 0.5, meas: mf2Meas, measOdd: mf2MeasOdd, fitT: grid25,
    fits: all(mf2Fit), yTitle: [['M'], ['F2', 1], [' (kg)']] },
  { col: 0, row: 1, min: 1.96, max: 2.04, step: 0.02, meas: mf3Meas, measOdd: mf3MeasOdd, fitT: grid10,
    fits: { ...all(mf3Fit), LS: mf3LS }, yTitle: [['M'], ['F3', 1], [' (kg)']] },
  { col: 1, row: 1, min: 8, max: 11, step: 1, meas: fb1Meas, measOdd: fb1MeasOdd, fitT: fb1FitT,
    fits: { ...all(fb1Fit), LS: fb1LS }, yTitle: [['F'], ['B1,out', 1], [' (kg/h)']], xTitle: true },
  { col: 0, row: 2, min: 0.09, max: 0.13, step: 0.01, meas: cb1Meas, measOdd: cb1MeasOdd, fitT: cb1FitT,
    fits: { ...all(cb1Fit), LS: cb1LS }, yTitle: [['C'], ['B1,out', 1]], xTitle: true },
  { col: 1, row: 2, min: 8, max: 14, step: 2, meas: fb2Meas, measOdd: fb2MeasOdd, fitT: fb2FitT,
    fits: { LS: fb2LS, Fair: fb2Fair, Logistic: fb2Logistic, Lorentzian: fb2Lorentzian, Welsch: fb2Lorentzian },
    yTitle: [['F'], ['B2,out', 1], [' (kg/h)']], xTitle: true },
  { col: 0, row: 3, min: 0.08, max: 0.16, step: 0.02, meas: cb2Meas, measOdd: cb2MeasOdd, fitT: cb2FitT,
    fits: { LS: cb2LS, Fair: cb2Fair, Logistic: cb2Logistic, Lorentzian: cb2Lorentzian, Welsch: cb2Welsch },
    yTitle: [['C'], ['B2,out', 1]], xTitle: true, legend: true }
];

const ROW_TOP = [0, 347, 693, 1039];
const CANVAS_W = 900, CANVAS_H = 330;
const PLOT_TOP = 19, X_AXIS_H = 86;
const TITLE_SIZE = 31, SUB_SIZE = 22;

function richText(ctx, parts, cx, cy, rotate) {
  const big = TITLE_SIZE + 'px ' + FONT, small = SUB_SIZE + 'px ' + FONT;
  let w = 0;
  parts.forEach(([t, sub]) => { ctx.font = sub ? small : big; w += ctx.measureText(t).width; });
  ctx.save();
  ctx.translate(cx, cy);
  if (rotate) ctx.rotate(-Math.PI / 2);
  ctx.fillStyle = '#000';
  ctx.textAlign = 'left';
  ctx.textBaseline = 'alphabetic';
  let x = -w / 2;
  parts.forEach(([t, sub]) => {
    ctx.font = sub ? small : big;
    ctx.fillText(t, x, sub ? 8 : 0);
    x += ctx.measureText(t).width;
  });
  ctx.restore();
}

function drawLegend(ctx) {
  const box = { x: 188, y: 22, w: 252, h: 138 };
  ctx.fillStyle = '#fff';
  ctx.fillRect(box.x, box.y, box.w, box.h);
  ctx.strokeStyle = '#333';
  ctx.lineWidth = 1.5;
  ctx.strokeRect(box.x, box.y, box.w, box.h);
  const rows = ['Measured', ...methods];
  const x1 = 210, x2 = 319, xm = 265;
  rows.forEach((name, i) => {
    const y = 38 + i * 20.8;
    if (name === 'Measured') {
      ctx.strokeStyle = BLUE; ctx.lineWidth = 2;
      ctx.beginPath(); ctx.arc(xm, y, 3.8, 0, Math.PI * 2); ctx.stroke();
    } else {
      const s = styles[name];
      ctx.strokeStyle = name === 'LS' ? '#444' : s.color;
      ctx.lineWidth = name === 'LS' ? 2 : s.width;
      ctx.setLineDash(name === 'Logistic' ? [8, 4] : s.dash);
      ctx.beginPath(); ctx.moveTo(x1, y); ctx.lineTo(x2, y); ctx.stroke();
      ctx.setLineDash([]);
      if (name === 'LS') {
        ctx.fillStyle = '#000';
        ctx.beginPath(); ctx.arc(xm, y, 2.5, 0, Math.PI * 2); ctx.fill();
      }
    }
    ctx.fillStyle = '#000';
    ctx.font = '18px ' + FONT;
    ctx.textAlign = 'left';
    ctx.textBaseline = 'middle';
    ctx.fillText(name, 341, y + 1);
  });
}

const decoPlugin = {
  id: 'deco',
  afterDraw(chart, args, opts) {
    const { ctx, chartArea: a } = chart;
    const xs = chart.scales.x, ys = chart.scales.y;
    ctx.save();
    // inward tick marks
    ctx.strokeStyle = AXIS;
    ctx.lineWidth = 2;
    ctx.beginPath();
    xs.ticks.forEach(t => {
      if (t.value === 0) return;
      const px = Math.round(xs.getPixelForValue(t.value));
      ctx.moveTo(px, a.bottom); ctx.lineTo(px, a.bottom - 7);
    });
    ys.ticks.forEach(t => {
      const py = Math.round(ys.getPixelForValue(t.value));
      ctx.moveTo(a.left, py); ctx.lineTo(a.left + 7, py);
    });
    ctx.stroke();
    richText(ctx, opts.yTitle, opts.yTitleX, (a.top + a.bottom) / 2, true);
    if (opts.xTitle) richText(ctx, [['t (s)']], (a.left + a.right) / 2, a.bottom + 71, false);
    if (opts.legend) drawLegend(ctx);
    ctx.restore();
  }
};

const fig = document.getElementById('fig');

panels.forEach(p => {
  const canvas = document.createElement('canvas');
  canvas.width = CANVAS_W;
  canvas.height = CANVAS_H;
  canvas.style.left = (p.col * 900) + 'px';
  canvas.style.top = ROW_TOP[p.row] + 'px';
  fig.appendChild(canvas);

  let points = evenT.map((t, i) => ({ x: t, y: p.meas[i] }));
  if (p.measOdd) points = points.concat(oddT.map((t, i) => ({ x: t, y: p.measOdd[i] })));

  const datasets = [{
    label: 'Measured',
    data: points,
    showLine: false,
    pointStyle: 'circle',
    pointRadius: 4,
    pointBorderWidth: 2,
    pointBorderColor: BLUE,
    pointBackgroundColor: 'rgba(0,0,0,0)',
    order: 6
  }];
  methods.forEach(m => {
    const s = styles[m];
    datasets.push({
      label: m,
      data: p.fitT.map((t, i) => ({ x: t, y: p.fits[m][i] })),
      showLine: true,
      pointRadius: 0,
      borderColor: s.color,
      borderWidth: s.width,
      borderDash: s.dash,
      cubicInterpolationMode: 'monotone',
      order: s.order
    });
  });

  const tickFont = { family: FONT, size: 26 };
  new Chart(canvas, {
    type: 'scatter',
    data: { datasets },
    options: {
      responsive: false,
      animation: false,
      devicePixelRatio: 1,
      layout: { padding: { top: PLOT_TOP, right: p.col ? 23 : 54, bottom: 0, left: 0 } },
      plugins: {
        legend: { display: false },
        tooltip: { enabled: false },
        deco: { yTitle: p.yTitle, yTitleX: p.col ? 90 : 38, xTitle: !!p.xTitle, legend: !!p.legend }
      },
      scales: {
        x: {
          type: 'linear', min: 0, max: 400,
          border: { display: true, color: AXIS, width: 2 },
          grid: { display: false, drawTicks: false },
          ticks: { stepSize: 50, padding: 10, color: '#000', font: tickFont, maxRotation: 0, autoSkip: false,
                   callback: v => (v === 0 ? '' : String(v)) },
          afterFit: s => { s.height = X_AXIS_H; }
        },
        y: {
          type: 'linear', min: p.min, max: p.max,
          border: { display: true, color: AXIS, width: 2 },
          grid: { display: false, drawTicks: false },
          ticks: { stepSize: p.step, padding: 13, color: '#000', font: tickFont,
                   callback: v => String(+v.toFixed(4)) },
          afterFit: s => { s.width = p.col ? 166 : 137; }
        }
      }
    },
    plugins: [decoPlugin]
  });
});
</script>
</body>
</html>
